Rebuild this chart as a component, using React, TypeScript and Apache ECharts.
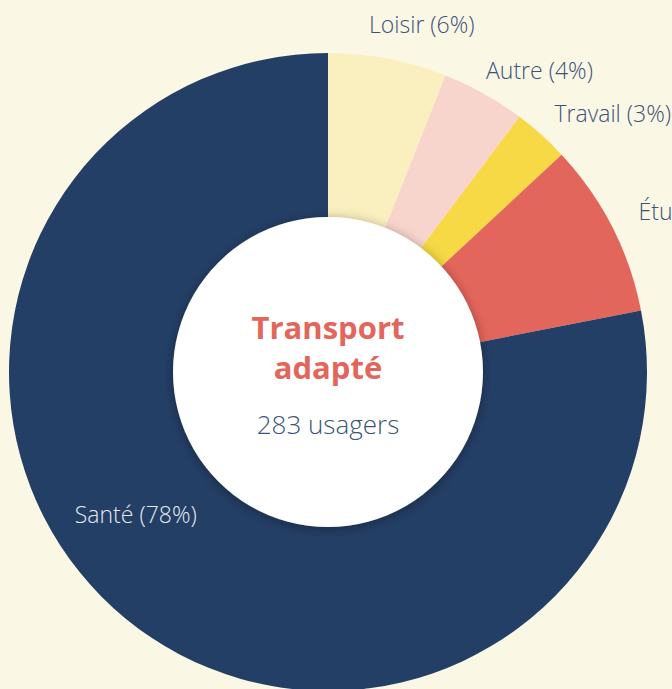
import React, { useEffect, useRef } from "react";
import * as echarts from "echarts";

// ---- Data ----
const categories = ["Loisir", "Autre", "Travail", "Études", "Santé"];
const counts = [17, 12, 8, 25, 221];
const percentLabels = ["6%", "4%", "3%", "9%", "78%"];
const centerTitle = ["Transport", "adapté"];
const centerSubtitle = "283 usagers";

// ---- Styles / layout (kept apart from the data) ----
const sliceColors = ["#FAEFBE", "#F7D5CD", "#F6D945", "#E3665C", "#243F66"];
const labelNudges: [number, number][] = [
  [-25, -2],
  [-14, 5],
  [-9, 3],
  [-3, -1],
  [-89, 16],
];
const insideLabel = [false, false, false, false, true];
const BG = "#FBF7E5";
const NAVY_TEXT = "#3C5379";
const CORAL = "#E3665C";
const CENTER: [number, number] = [328, 372];

export default function App() {
  const ref = useRef<HTMLDivElement>(null);

  useEffect(() => {
    if (!ref.current) return;
    const chart = echarts.init(ref.current, undefined, { renderer: "svg" });

    const data = categories.map((name, i) => ({
      name,
      value: counts[i],
      itemStyle: { color: sliceColors[i] },
      label: insideLabel[i]
        ? {
            position: "inside",
            color: "#E6E9F0",
            offset: labelNudges[i],
          }
        : {
            position: "outside",
            color: NAVY_TEXT,
            offset: labelNudges[i],
          },
    }));

    chart.setOption({
      animation: false,
      backgroundColor: BG,
      series: [
        {
          type: "pie",
          center: CENTER,
          radius: [0, 319],
          startAngle: 90,
          clockwise: true,
          avoidLabelOverlap: false,
          silent: true,
          label: {
            show: true,
            fontFamily: "Open Sans",
            fontWeight: 300,
            fontSize: 23,
            overflow: "none",
            distanceToLabelLine: 0,
            formatter: (p: any) => `${p.name} (${percentLabels[p.dataIndex]})`,
          },
          labelLine: { show: false, length: 33, length2: 0 },
          data,
          z: 2,
        },
        {
          type: "pie",
          center: CENTER,
          radius: [0, 155],
          silent: true,
          z: 3,
          itemStyle: {
            color: "#FFFFFF",
            shadowBlur: 12,
            shadowOffsetY: 2,
            shadowColor: "rgba(0,0,0,0.35)",
          },
          label: {
            show: true,
            position: "center",
            offset: [0, 12],
            formatter: () =>
              `{t|${centerTitle[0]}}\n{t|${centerTitle[1]}}\n{s|${centerSubtitle}}`,
            rich: {
              t: {
                fontFamily: "Open Sans",
                fontWeight: 700,
                fontSize: 31,
                lineHeight: 40,
                color: CORAL,
                align: "center",
              },
              s: {
                fontFamily: "Open Sans",
                fontWeight: 300,
                fontSize: 26,
                lineHeight: 74,
                color: NAVY_TEXT,
                align: "center",
              },
            },
          },
          labelLine: { show: false },
          data: [{ name: "centre", value: 1 }],
        },
      ],
    });

    return () => chart.dispose();
  }, []);

  return (
    <div
      ref={ref}
      style={{ position: "absolute", left: 0, top: 0, width: 672, height: 689 }}
    />
  );
}
